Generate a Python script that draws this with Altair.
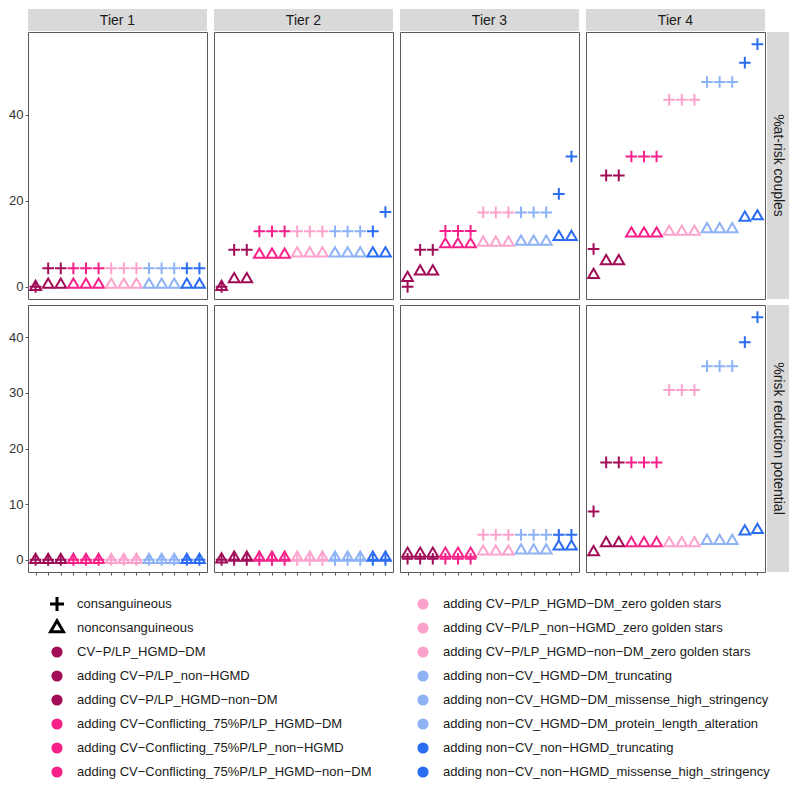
import altair as alt
import pandas as pd

FONT = "Liberation Sans"

tiers = ["Tier 1", "Tier 2", "Tier 3", "Tier 4"]
metrics = ["%at-risk couples", "%risk reduction potential"]
types = ["consanguineous", "nonconsanguineous"]

categories = [
    "CV\u2212P/LP_HGMD\u2212DM",
    "adding CV\u2212P/LP_non\u2212HGMD",
    "adding CV\u2212P/LP_HGMD\u2212non\u2212DM",
    "adding CV\u2212Conflicting_75%P/LP_HGMD\u2212DM",
    "adding CV\u2212Conflicting_75%P/LP_non\u2212HGMD",
    "adding CV\u2212Conflicting_75%P/LP_HGMD\u2212non\u2212DM",
    "adding CV\u2212P/LP_HGMD\u2212DM_zero golden stars",
    "adding CV\u2212P/LP_non\u2212HGMD_zero golden stars",
    "adding CV\u2212P/LP_HGMD\u2212non\u2212DM_zero golden stars",
    "adding non\u2212CV_HGMD\u2212DM_truncating",
    "adding non\u2212CV_HGMD\u2212DM_missense_high_stringency",
    "adding non\u2212CV_HGMD\u2212DM_protein_length_alteration",
    "adding non\u2212CV_non\u2212HGMD_truncating",
    "adding non\u2212CV_non\u2212HGMD_missense_high_stringency",
]
MAROON, PINK, LPINK, LBLUE, BLUE = "#A00C57", "#F7218A", "#FDA2CC", "#8DB2F6", "#2A6CF2"
cat_colors = [MAROON] * 3 + [PINK] * 3 + [LPINK] * 3 + [LBLUE] * 3 + [BLUE] * 2

# %at-risk couples
atrisk_cons_t1 = [0, 4.3, 4.3, 4.3, 4.3, 4.3, 4.3, 4.3, 4.3, 4.3, 4.3, 4.3, 4.3, 4.3]
atrisk_cons_t2 = [0, 8.6, 8.6, 12.9, 12.9, 12.9, 12.9, 12.9, 12.9, 12.9, 12.9, 12.9, 12.9, 17.4]
atrisk_cons_t3 = [0, 8.6, 8.6, 13.0, 13.0, 13.0, 17.3, 17.3, 17.3, 17.3, 17.3, 17.3, 21.6, 30.3]
atrisk_cons_t4 = [8.8, 25.9, 25.9, 30.3, 30.3, 30.3, 43.5, 43.5, 43.5, 47.6, 47.6, 47.6, 52.1, 56.4]
atrisk_non_t1 = [0, 0.5, 0.5, 0.5, 0.5, 0.5, 0.5, 0.5, 0.5, 0.5, 0.5, 0.5, 0.5, 0.5]
atrisk_non_t2 = [0, 1.8, 1.8, 7.5, 7.5, 7.5, 7.8, 7.8, 7.8, 7.8, 7.8, 7.8, 7.8, 7.8]
atrisk_non_t3 = [2.1, 3.6, 3.6, 9.9, 9.9, 9.9, 10.3, 10.3, 10.3, 10.5, 10.5, 10.5, 11.6, 11.6]
atrisk_non_t4 = [2.8, 6.0, 6.0, 12.4, 12.4, 12.4, 12.8, 12.8, 12.8, 13.4, 13.4, 13.4, 16.1, 16.4]

# %risk reduction potential
risk_cons_t1 = [0, 0, 0, 0, 0, 0, 0, 0, 0, 0, 0, 0, 0, 0]
risk_cons_t2 = [0, 0, 0, 0, 0, 0, 0, 0, 0, 0, 0, 0, 0, 0]
risk_cons_t3 = [0.2, 0.2, 0.2, 0.2, 0.2, 0.2, 4.5, 4.5, 4.5, 4.5, 4.5, 4.5, 4.5, 4.5]
risk_cons_t4 = [8.7, 17.5, 17.5, 17.5, 17.5, 17.5, 30.5, 30.5, 30.5, 34.8, 34.8, 34.8, 39.1, 43.6]
risk_non_t1 = [0, 0, 0, 0, 0, 0, 0, 0, 0, 0, 0, 0, 0, 0]
risk_non_t2 = [0.1, 0.4, 0.4, 0.4, 0.4, 0.4, 0.4, 0.4, 0.4, 0.4, 0.4, 0.4, 0.4, 0.4]
risk_non_t3 = [1.1, 1.1, 1.1, 1.1, 1.1, 1.1, 1.5, 1.5, 1.5, 1.7, 1.7, 1.7, 2.4, 2.4]
risk_non_t4 = [1.4, 3.0, 3.0, 3.0, 3.0, 3.0, 3.0, 3.0, 3.0, 3.4, 3.4, 3.4, 5.1, 5.4]

series = {
    (metrics[0], tiers[0]): (atrisk_cons_t1, atrisk_non_t1),
    (metrics[0], tiers[1]): (atrisk_cons_t2, atrisk_non_t2),
    (metrics[0], tiers[2]): (atrisk_cons_t3, atrisk_non_t3),
    (metrics[0], tiers[3]): (atrisk_cons_t4, atrisk_non_t4),
    (metrics[1], tiers[0]): (risk_cons_t1, risk_non_t1),
    (metrics[1], tiers[1]): (risk_cons_t2, risk_non_t2),
    (metrics[1], tiers[2]): (risk_cons_t3, risk_non_t3),
    (metrics[1], tiers[3]): (risk_cons_t4, risk_non_t4),
}
y_ticks = {metrics[0]: [0, 20, 40], metrics[1]: [0, 10, 20, 30, 40]}

rows = []
for (m, t), (cons, non) in series.items():
    for typ, vals in zip(types, (cons, non)):
        for i, v in enumerate(vals):
            rows.append({"metric": m, "tier": t, "type": typ, "idx": i,
                         "category": categories[i], "value": v})
df = pd.DataFrame(rows)

CROSS = "M-1,0L1,0M0,-1L0,1"
TRI = "M0,-1.05L0.92,0.53L-0.92,0.53Z"

W, H = 179, 267
STRIP = 22
COLGAP, ROWGAP = 7, 6
BORDER = "#5a5a5a"
GREY = "#D9D9D9"
NOVIEW = alt.ViewBackground(fill="transparent", stroke="transparent")


def domain_for(m):
    v = df[df.metric == m].value
    lo, hi = v.min(), v.max()
    pad = 0.05 * (hi - lo)
    return [lo - pad, hi + pad]


def panel(m, t, show_y, show_x):
    sub = df[(df.metric == m) & (df.tier == t)]
    xaxis = alt.Axis(values=list(range(14)), labels=False, ticks=True, tickSize=3,
                     tickColor=BORDER, domain=False, grid=False, title=None) if show_x else None
    yaxis = alt.Axis(values=y_ticks[m], tickSize=3, tickColor=BORDER, domain=False, grid=False,
                     title=None, labelFont=FONT, labelFontSize=13, labelColor="#333333",
                     labelPadding=2) if show_y else None
    return alt.Chart(sub).mark_point(filled=False, strokeWidth=2, size=136, opacity=1).encode(
        x=alt.X("idx:Q", scale=alt.Scale(domain=[-0.6, 13.6], nice=False, zero=False), axis=xaxis),
        y=alt.Y("value:Q", scale=alt.Scale(domain=domain_for(m), nice=False, zero=False), axis=yaxis),
        color=alt.Color("category:N", scale=alt.Scale(domain=categories, range=cat_colors), legend=None),
        shape=alt.Shape("type:N", scale=alt.Scale(domain=types, range=[CROSS, TRI]), legend=None),
        order=alt.Order("type:N"),
    ).properties(width=W, height=H,
                 view=alt.ViewBackground(fill="white", stroke=BORDER, strokeWidth=1))


def col_strip(t):
    base = alt.Chart(pd.DataFrame({"label": [t]}))
    rect = base.mark_rect(color=GREY).encode(
        x=alt.value(0), x2=alt.value(W), y=alt.value(0), y2=alt.value(STRIP))
    text = base.mark_text(font=FONT, fontSize=14, color="#1A1A1A", baseline="middle",
                          align="center").encode(
        text="label:N", x=alt.value(W / 2), y=alt.value(STRIP / 2 + 1))
    # cell is shorter than the strip; the strip runs into the row gap
    return alt.layer(rect, text).properties(width=W, height=STRIP + 1 - ROWGAP, view=NOVIEW)


def row_strip(m):
    cw = STRIP + 2 - COLGAP
    base = alt.Chart(pd.DataFrame({"label": [m]}))
    rect = base.mark_rect(color=GREY).encode(
        x=alt.value(cw - STRIP), x2=alt.value(cw), y=alt.value(0), y2=alt.value(H))
    text = base.mark_text(font=FONT, fontSize=14, color="#1A1A1A", baseline="middle",
                          align="center", angle=90).encode(
        text="label:N", x=alt.value(cw - STRIP / 2), y=alt.value(H / 2))
    return alt.layer(rect, text).properties(width=cw, height=H, view=NOVIEW)


def blank():
    return alt.Chart(pd.DataFrame({"a": [0]})).mark_point(opacity=0, size=1).encode(
        x=alt.value(8), y=alt.value(8)).properties(width=STRIP + 2 - COLGAP,
                                                    height=STRIP + 1 - ROWGAP, view=NOVIEW)


cells = [col_strip(t) for t in tiers] + [blank()]
cells += [panel(metrics[0], t, i == 0, False) for i, t in enumerate(tiers)] + [row_strip(metrics[0])]
cells += [panel(metrics[1], t, i == 0, True) for i, t in enumerate(tiers)] + [row_strip(metrics[1])]

grid = alt.concat(*cells, columns=5, spacing={"row": ROWGAP, "column": COLGAP},
                  bounds="flush", align="each")

# legend (two columns, eight rows)
legend_labels_left = types + categories[:6]
legend_labels_right = categories[6:]
leg_rows = []
for r, lab in enumerate(legend_labels_left):
    leg_rows.append({"col": 0, "row": r, "label": lab,
                     "kind": "shape" if lab in types else "circle"})
for r, lab in enumerate(legend_labels_right):
    leg_rows.append({"col": 1, "row": r, "label": lab, "kind": "circle"})
leg_df = pd.DataFrame(leg_rows)

LW = 740
LSTEP = 24
lx = alt.X("col:Q", scale=alt.Scale(domain=[0, 1], range=[29, 395]), axis=None)
ly = alt.Y("row:Q", scale=alt.Scale(domain=[-0.5, 7.5], reverse=True, nice=False, zero=False), axis=None)
leg_base = alt.Chart(leg_df).encode(x=lx, y=ly)
leg_shapes = leg_base.transform_filter(alt.datum.kind == "shape").mark_point(
    filled=False, strokeWidth=3, size=196, opacity=1, color="black"
).encode(shape=alt.Shape("label:N", scale=alt.Scale(domain=types, range=[CROSS, TRI]), legend=None))
leg_circles = leg_base.transform_filter(alt.datum.kind == "circle").mark_circle(
    size=125, opacity=1
).encode(color=alt.Color("label:N", scale=alt.Scale(domain=categories, range=cat_colors), legend=None))
leg_text = leg_base.mark_text(align="left", baseline="middle", dx=20, font=FONT, fontSize=13,
                              color="#1A1A1A").encode(text="label:N")
legend = alt.layer(leg_shapes, leg_circles, leg_text).properties(
    width=LW, height=8 * LSTEP, view=NOVIEW)

chart = alt.vconcat(grid, legend, spacing=14).properties(padding=0, background="white")

chart.save("out.html", embed_options={"renderer": "svg", "actions": False})
